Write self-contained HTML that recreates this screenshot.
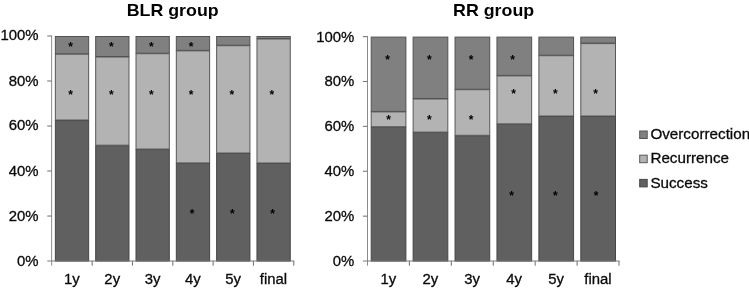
<!DOCTYPE html>
<html lang="en">
<head>
<meta charset="utf-8">
<title>BLR group / RR group</title>
<style>
html,body{margin:0;padding:0;background:#fff;}
body{width:749px;height:289px;overflow:hidden;}
svg{display:block;will-change:transform;}
.lab{font-family:"Liberation Sans", Arial, Helvetica, sans-serif;font-size:15.3px;fill:#0a0a0a;stroke:#0a0a0a;stroke-width:0.3px;}
.ttl{font-family:"Liberation Sans", Arial, Helvetica, sans-serif;font-size:17.05px;font-weight:bold;fill:#000;}
.star{font-family:"Liberation Sans", Arial, Helvetica, sans-serif;font-size:12px;font-weight:bold;fill:#000;}
.ax{stroke:#7a7a7a;stroke-width:1.1;fill:none;}
.vax{stroke:#8c8c8c;stroke-width:1;fill:none;}
</style>
</head>
<body>
<svg width="749" height="289" viewBox="0 0 749 289">
<rect x="0" y="0" width="749" height="289" fill="#ffffff"/>
<rect x="55.36" y="120.50" width="33.30" height="140.55" fill="#606060" stroke="#464646" stroke-width="1"/>
<rect x="55.36" y="54.20" width="33.30" height="65.80" fill="#b3b3b3" stroke="#585858" stroke-width="1"/>
<rect x="55.36" y="36.50" width="33.30" height="17.20" fill="#808080" stroke="#525252" stroke-width="1"/>
<rect x="95.68" y="145.70" width="33.30" height="115.35" fill="#606060" stroke="#464646" stroke-width="1"/>
<rect x="95.68" y="57.00" width="33.30" height="88.20" fill="#b3b3b3" stroke="#585858" stroke-width="1"/>
<rect x="95.68" y="36.50" width="33.30" height="20.00" fill="#808080" stroke="#525252" stroke-width="1"/>
<rect x="136.00" y="149.55" width="33.30" height="111.50" fill="#606060" stroke="#464646" stroke-width="1"/>
<rect x="136.00" y="53.70" width="33.30" height="95.35" fill="#b3b3b3" stroke="#585858" stroke-width="1"/>
<rect x="136.00" y="36.50" width="33.30" height="16.70" fill="#808080" stroke="#525252" stroke-width="1"/>
<rect x="176.32" y="163.40" width="33.30" height="97.65" fill="#606060" stroke="#464646" stroke-width="1"/>
<rect x="176.32" y="50.85" width="33.30" height="112.05" fill="#b3b3b3" stroke="#585858" stroke-width="1"/>
<rect x="176.32" y="36.50" width="33.30" height="13.85" fill="#808080" stroke="#525252" stroke-width="1"/>
<rect x="216.64" y="153.50" width="33.30" height="107.55" fill="#606060" stroke="#464646" stroke-width="1"/>
<rect x="216.64" y="45.70" width="33.30" height="107.30" fill="#b3b3b3" stroke="#585858" stroke-width="1"/>
<rect x="216.64" y="36.50" width="33.30" height="8.70" fill="#808080" stroke="#525252" stroke-width="1"/>
<rect x="256.96" y="163.50" width="33.30" height="97.55" fill="#606060" stroke="#464646" stroke-width="1"/>
<rect x="256.96" y="39.00" width="33.30" height="124.00" fill="#b3b3b3" stroke="#585858" stroke-width="1"/>
<rect x="256.96" y="36.50" width="33.30" height="2.00" fill="#808080" stroke="#525252" stroke-width="1"/>
<path d="M51.65 35.50V265.65" class="vax"/>
<path d="M47.25 261.05H294.27" class="ax"/>
<text transform="translate(38.60 265.90) scale(0.975 1.0)" text-anchor="end" class="lab">0%</text>
<path d="M47.25 216.04H51.85" class="ax"/>
<text transform="translate(38.60 220.64) scale(0.975 1.0)" text-anchor="end" class="lab">20%</text>
<path d="M47.25 171.03H51.85" class="ax"/>
<text transform="translate(38.60 175.88) scale(0.975 1.0)" text-anchor="end" class="lab">40%</text>
<path d="M47.25 126.02H51.85" class="ax"/>
<text transform="translate(38.60 130.22) scale(0.975 1.0)" text-anchor="end" class="lab">60%</text>
<path d="M47.25 81.01H51.85" class="ax"/>
<text transform="translate(38.60 85.51) scale(0.975 1.0)" text-anchor="end" class="lab">80%</text>
<path d="M47.25 36.00H51.85" class="ax"/>
<text transform="translate(38.60 40.20) scale(0.975 1.0)" text-anchor="end" class="lab">100%</text>
<path d="M92.17 261.05V265.65" class="ax"/>
<text transform="translate(71.91 283.60) scale(0.975 1.0)" text-anchor="middle" class="lab">1y</text>
<path d="M132.49 261.05V265.65" class="ax"/>
<text transform="translate(112.23 283.60) scale(0.975 1.0)" text-anchor="middle" class="lab">2y</text>
<path d="M172.81 261.05V265.65" class="ax"/>
<text transform="translate(152.55 283.60) scale(0.975 1.0)" text-anchor="middle" class="lab">3y</text>
<path d="M213.13 261.05V265.65" class="ax"/>
<text transform="translate(192.87 283.60) scale(0.975 1.0)" text-anchor="middle" class="lab">4y</text>
<path d="M253.45 261.05V265.65" class="ax"/>
<text transform="translate(233.19 283.60) scale(0.975 1.0)" text-anchor="middle" class="lab">5y</text>
<path d="M293.77 261.05V265.65" class="ax"/>
<text transform="translate(273.51 283.60) scale(0.975 1.0)" text-anchor="middle" class="lab">final</text>
<text transform="translate(70.50 51.35) scale(1.0 1.0)" text-anchor="middle" class="star">*</text>
<text transform="translate(111.25 51.35) scale(1.0 1.0)" text-anchor="middle" class="star">*</text>
<text transform="translate(151.30 51.35) scale(1.0 1.0)" text-anchor="middle" class="star">*</text>
<text transform="translate(191.20 51.35) scale(1.0 1.0)" text-anchor="middle" class="star">*</text>
<text transform="translate(70.50 99.00) scale(1.0 1.0)" text-anchor="middle" class="star">*</text>
<text transform="translate(111.25 99.00) scale(1.0 1.0)" text-anchor="middle" class="star">*</text>
<text transform="translate(151.30 99.00) scale(1.0 1.0)" text-anchor="middle" class="star">*</text>
<text transform="translate(191.20 99.00) scale(1.0 1.0)" text-anchor="middle" class="star">*</text>
<text transform="translate(231.75 99.00) scale(1.0 1.0)" text-anchor="middle" class="star">*</text>
<text transform="translate(271.80 99.00) scale(1.0 1.0)" text-anchor="middle" class="star">*</text>
<text transform="translate(192.20 218.35) scale(1.0 1.0)" text-anchor="middle" class="star">*</text>
<text transform="translate(232.25 218.35) scale(1.0 1.0)" text-anchor="middle" class="star">*</text>
<text transform="translate(272.60 218.35) scale(1.0 1.0)" text-anchor="middle" class="star">*</text>
<text transform="translate(172.70 15.60) scale(1.045 1)" text-anchor="middle" class="ttl">BLR group</text>
<rect x="371.20" y="127.20" width="34.70" height="133.85" fill="#606060" stroke="#464646" stroke-width="1"/>
<rect x="371.20" y="111.90" width="34.70" height="14.80" fill="#b3b3b3" stroke="#585858" stroke-width="1"/>
<rect x="371.20" y="37.10" width="34.70" height="74.30" fill="#808080" stroke="#525252" stroke-width="1"/>
<rect x="413.12" y="132.60" width="34.70" height="128.45" fill="#606060" stroke="#464646" stroke-width="1"/>
<rect x="413.12" y="99.00" width="34.70" height="33.10" fill="#b3b3b3" stroke="#585858" stroke-width="1"/>
<rect x="413.12" y="37.10" width="34.70" height="61.40" fill="#808080" stroke="#525252" stroke-width="1"/>
<rect x="455.04" y="135.80" width="34.70" height="125.25" fill="#606060" stroke="#464646" stroke-width="1"/>
<rect x="455.04" y="89.70" width="34.70" height="45.60" fill="#b3b3b3" stroke="#585858" stroke-width="1"/>
<rect x="455.04" y="37.10" width="34.70" height="52.10" fill="#808080" stroke="#525252" stroke-width="1"/>
<rect x="496.96" y="124.30" width="34.70" height="136.75" fill="#606060" stroke="#464646" stroke-width="1"/>
<rect x="496.96" y="75.90" width="34.70" height="47.90" fill="#b3b3b3" stroke="#585858" stroke-width="1"/>
<rect x="496.96" y="37.10" width="34.70" height="38.30" fill="#808080" stroke="#525252" stroke-width="1"/>
<rect x="538.88" y="116.50" width="34.70" height="144.55" fill="#606060" stroke="#464646" stroke-width="1"/>
<rect x="538.88" y="55.70" width="34.70" height="60.30" fill="#b3b3b3" stroke="#585858" stroke-width="1"/>
<rect x="538.88" y="37.10" width="34.70" height="18.10" fill="#808080" stroke="#525252" stroke-width="1"/>
<rect x="580.80" y="116.50" width="34.70" height="144.55" fill="#606060" stroke="#464646" stroke-width="1"/>
<rect x="580.80" y="43.60" width="34.70" height="72.40" fill="#b3b3b3" stroke="#585858" stroke-width="1"/>
<rect x="580.80" y="37.10" width="34.70" height="6.00" fill="#808080" stroke="#525252" stroke-width="1"/>
<path d="M367.50 36.10V265.65" class="vax"/>
<path d="M362.90 261.05H619.52" class="ax"/>
<text transform="translate(354.30 265.85) scale(0.975 1.0)" text-anchor="end" class="lab">0%</text>
<path d="M362.90 216.16H367.50" class="ax"/>
<text transform="translate(354.30 221.16) scale(0.975 1.0)" text-anchor="end" class="lab">20%</text>
<path d="M362.90 171.27H367.50" class="ax"/>
<text transform="translate(354.30 176.27) scale(0.975 1.0)" text-anchor="end" class="lab">40%</text>
<path d="M362.90 126.38H367.50" class="ax"/>
<text transform="translate(354.30 131.38) scale(0.975 1.0)" text-anchor="end" class="lab">60%</text>
<path d="M362.90 81.49H367.50" class="ax"/>
<text transform="translate(354.30 86.49) scale(0.975 1.0)" text-anchor="end" class="lab">80%</text>
<path d="M362.90 36.60H367.50" class="ax"/>
<text transform="translate(354.30 41.70) scale(0.975 1.0)" text-anchor="end" class="lab">100%</text>
<path d="M409.42 261.05V265.65" class="ax"/>
<text transform="translate(388.36 283.60) scale(0.975 1.0)" text-anchor="middle" class="lab">1y</text>
<path d="M451.34 261.05V265.65" class="ax"/>
<text transform="translate(430.28 283.60) scale(0.975 1.0)" text-anchor="middle" class="lab">2y</text>
<path d="M493.26 261.05V265.65" class="ax"/>
<text transform="translate(472.20 283.60) scale(0.975 1.0)" text-anchor="middle" class="lab">3y</text>
<path d="M535.18 261.05V265.65" class="ax"/>
<text transform="translate(514.12 283.60) scale(0.975 1.0)" text-anchor="middle" class="lab">4y</text>
<path d="M577.10 261.05V265.65" class="ax"/>
<text transform="translate(556.04 283.60) scale(0.975 1.0)" text-anchor="middle" class="lab">5y</text>
<path d="M619.02 261.05V265.65" class="ax"/>
<text transform="translate(597.96 283.60) scale(0.975 1.0)" text-anchor="middle" class="lab">final</text>
<text transform="translate(387.50 64.30) scale(1.0 1.0)" text-anchor="middle" class="star">*</text>
<text transform="translate(429.40 64.30) scale(1.0 1.0)" text-anchor="middle" class="star">*</text>
<text transform="translate(471.00 64.30) scale(1.0 1.0)" text-anchor="middle" class="star">*</text>
<text transform="translate(512.60 64.35) scale(1.0 1.0)" text-anchor="middle" class="star">*</text>
<text transform="translate(388.70 124.25) scale(1.0 1.0)" text-anchor="middle" class="star">*</text>
<text transform="translate(429.40 124.25) scale(1.0 1.0)" text-anchor="middle" class="star">*</text>
<text transform="translate(471.10 124.25) scale(1.0 1.0)" text-anchor="middle" class="star">*</text>
<text transform="translate(513.50 97.80) scale(1.0 1.0)" text-anchor="middle" class="star">*</text>
<text transform="translate(555.40 97.80) scale(1.0 1.0)" text-anchor="middle" class="star">*</text>
<text transform="translate(595.70 97.80) scale(1.0 1.0)" text-anchor="middle" class="star">*</text>
<text transform="translate(511.70 200.10) scale(1.0 1.0)" text-anchor="middle" class="star">*</text>
<text transform="translate(555.40 200.10) scale(1.0 1.0)" text-anchor="middle" class="star">*</text>
<text transform="translate(596.20 200.10) scale(1.0 1.0)" text-anchor="middle" class="star">*</text>
<text transform="translate(493.60 16.10) scale(1.045 1)" text-anchor="middle" class="ttl">RR group</text>
<rect x="639.7" y="131.00" width="7.5" height="7.5" fill="#808080" stroke="#525252" stroke-width="1"/>
<text transform="translate(650.40 139.10) scale(0.995 1.0)" text-anchor="start" class="lab">Overcorrection</text>
<rect x="639.7" y="155.20" width="7.5" height="7.5" fill="#b3b3b3" stroke="#585858" stroke-width="1"/>
<text transform="translate(650.40 163.30) scale(0.995 1.0)" text-anchor="start" class="lab">Recurrence</text>
<rect x="639.7" y="179.40" width="7.5" height="7.5" fill="#606060" stroke="#464646" stroke-width="1"/>
<text transform="translate(650.40 187.50) scale(0.995 1.0)" text-anchor="start" class="lab">Success</text>
</svg>
</body>
</html>
